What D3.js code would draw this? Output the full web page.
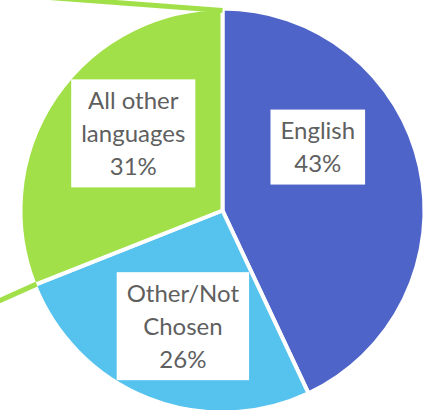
<!DOCTYPE html>
<html>
<head>
<meta charset="utf-8">
<script src="https://cdn.jsdelivr.net/npm/d3@7"></script>
<style>
  html, body { margin: 0; padding: 0; background: #fff; }
  svg { display: block; }
  .lbl text { font-family: Lato, "Open Sans", sans-serif; fill: #5f5f5f; }
</style>
</head>
<body>
<svg id="chart"></svg>
<script>
// Data
var categories = ["English", "Other/Not Chosen", "All other languages"];
var labelLines = [["English", "43%"], ["Other/Not", "Chosen", "26%"], ["All other", "languages", "31%"]];
var shares = [43, 26, 31];
var colors = ["#4e64c8", "#56c3ee", "#a2e04a"];

// Layout
var width = 433, height = 410;
var cx = 222.5, cy = 210.5, radius = 202;
var fontSize = 24, lineH = 33;
var labelR = 0.6;
// label nudges (px) from the slice centroid
var labelShift = [[-23, -37], [5, 3], [11, -9]];

var svg = d3.select("#chart")
  .attr("width", width)
  .attr("height", height);

var g = svg.append("g")
  .attr("transform", "translate(" + cx + "," + cy + ")");

var pie = d3.pie().sort(null).value(function(d) { return d; });
var arcs = pie(shares);

var arc = d3.arc().innerRadius(0).outerRadius(radius);

// slices
g.selectAll("path.slice")
  .data(arcs)
  .enter()
  .append("path")
  .attr("class", "slice")
  .attr("d", arc)
  .attr("fill", function(d, i) { return colors[i]; })
  .attr("stroke", "#fff")
  .attr("stroke-width", 4)
  .attr("stroke-linejoin", "round");

// connector lines to the (off-canvas) secondary chart, from the edges of the last slice
var last = arcs[arcs.length - 1];
var r0 = radius - 2;
function edgePt(a) { return [r0 * Math.sin(a), -r0 * Math.cos(a)]; }
var pTop = edgePt(last.endAngle);
var pBot = edgePt(last.startAngle);
var conn = [
  [pTop, [pTop[0] - 430, pTop[1] - 430 * 0.075]],
  [pBot, [pBot[0] - 240, pBot[1] + 240 * 0.45]]
];
g.selectAll("line.conn")
  .data(conn)
  .enter()
  .append("line")
  .attr("class", "conn")
  .attr("x1", function(d) { return d[0][0]; })
  .attr("y1", function(d) { return d[0][1]; })
  .attr("x2", function(d) { return d[1][0]; })
  .attr("y2", function(d) { return d[1][1]; })
  .attr("stroke", colors[2])
  .attr("stroke-width", 5);

// labels
var labelArc = d3.arc().innerRadius(radius * labelR).outerRadius(radius * labelR);

var lbl = g.selectAll("g.lbl")
  .data(arcs)
  .enter()
  .append("g")
  .attr("class", "lbl")
  .attr("transform", function(d, i) {
    var c = labelArc.centroid(d);
    return "translate(" + (c[0] + labelShift[i][0]) + "," + (c[1] + labelShift[i][1]) + ")";
  });

lbl.each(function(d, i) {
  var el = d3.select(this);
  var lines = labelLines[i];
  var n = lines.length;
  var rect = el.append("rect").attr("fill", "#fff");
  var t = el.append("text")
    .attr("text-anchor", "middle")
    .style("font-size", fontSize + "px");
  lines.forEach(function(s, k) {
    t.append("tspan")
      .attr("x", 0)
      .attr("y", (k - (n - 1) / 2) * lineH)
      .attr("dy", "0.35em")
      .text(s);
  });
  var w = 0;
  t.selectAll("tspan").each(function() { w = Math.max(w, this.getComputedTextLength()); });
  var bw = w + 20, bh = n * lineH + 9;
  rect.attr("x", -bw / 2).attr("y", -bh / 2).attr("width", bw).attr("height", bh);
});
</script>
</body>
</html>
